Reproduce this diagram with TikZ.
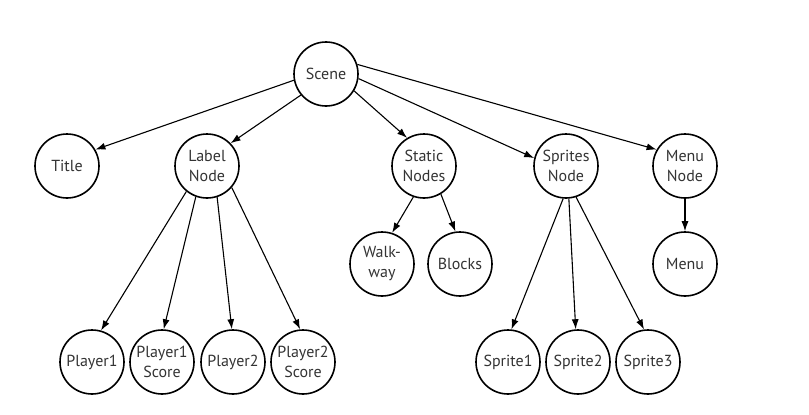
\documentclass[tikz,border=0pt]{standalone}
\usepackage{fontspec}
\setmainfont{PT Sans}
\usetikzlibrary{arrows.meta}
\begin{document}
\begin{tikzpicture}[x=1pt,y=-1pt,
  circ/.style={circle,draw=black,line width=1.6pt,minimum size=64pt,inner sep=0pt,
    font=\fontsize{16}{20}\selectfont,text=black!80,align=center},
  arr/.style={line width=1.1pt,-{Latex[length=10pt,width=7pt]}}]
\useasboundingbox (0,0) rectangle (809,415);
\node[circ] (scene) at (326,74) {Scene};
\node[circ] (title) at (67,166) {Title};
\node[circ] (label) at (207,166) {Label\\Node};
\node[circ] (static) at (424,166) {Static\\Nodes};
\node[circ] (sprites) at (566,166) {Sprites\\Node};
\node[circ] (menun) at (685,166) {Menu\\Node};
\node[circ] (walk) at (382,264) {Walk-\\way};
\node[circ] (blocks) at (460,264) {Blocks};
\node[circ] (menu) at (685,264) {Menu};
\node[circ] (p1) at (92,362) {Player1};
\node[circ] (p1s) at (162,362) {Player1\\Score};
\node[circ] (p2) at (233,362) {Player2};
\node[circ] (p2s) at (303,362) {Player2\\Score};
\node[circ] (s1) at (508,362) {Sprite1};
\node[circ] (s2) at (578,362) {Sprite2};
\node[circ] (s3) at (648,362) {Sprite3};
% Scene
\draw[arr] (scene.191) -- (title.30);
\draw[arr] (scene.220) -- (label.44);
\draw[arr] (scene.329) -- (static.121);
\draw[arr] (scene.352) -- (sprites.166);
\draw[arr] (scene.17) -- (menun.150);
% Label Node
\draw[arr] (label.231) -- (p1.74);
\draw[arr] (label.250) -- (p1s.87);
\draw[arr] (label.288) -- (p2.92);
\draw[arr] (label.319) -- (p2s.95);
% Static Nodes
\draw[arr] (static.251) -- (walk.72);
\draw[arr] (static.301) -- (blocks.98);
% Sprites Node
\draw[arr] (sprites.265) -- (s1.84);
\draw[arr] (sprites.275) -- (s2.94);
\draw[arr] (sprites.288) -- (s3.97);
% Menu Node
\draw[arr] (menun.270) -- (menu.90);
\end{tikzpicture}
\end{document}
